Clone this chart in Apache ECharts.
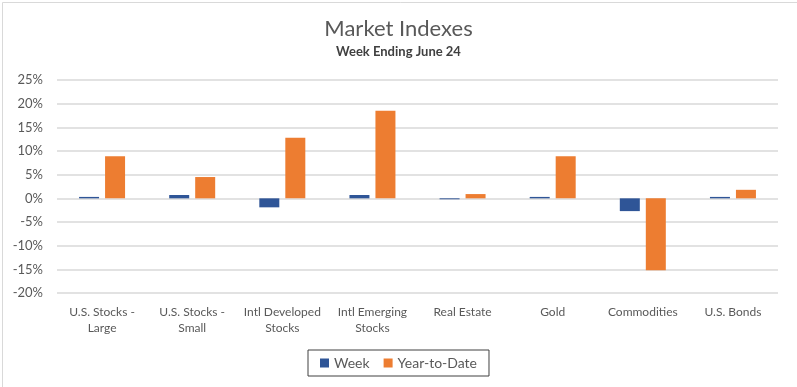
<!DOCTYPE html>
<html>
<head>
<meta charset="utf-8">
<script src="https://cdn.jsdelivr.net/npm/echarts@6/dist/echarts.min.js"></script>
<style>
html,body{margin:0;padding:0;background:#fff;}
#chart{width:797px;height:387px;}
</style>
</head>
<body>
<div id="chart"></div>
<script>
const categories = ["U.S. Stocks -\nLarge", "U.S. Stocks -\nSmall", "Intl Developed\nStocks", "Intl Emerging\nStocks", "Real Estate", "Gold", "Commodities", "U.S. Bonds"];
const weekValues = [0.3, 0.7, -1.9, 0.7, -0.2, 0.3, -2.7, 0.3];
const ytdValues = [8.9, 4.5, 12.8, 18.5, 0.9, 8.9, -15.2, 1.8];
const seriesNames = ["Week", "Year-to-Date"];
const yTicks = {min: -20, max: 25, interval: 5};

const FONT = 'Lato, "Open Sans", sans-serif';
const chart = echarts.init(document.getElementById('chart'), null, {renderer: 'canvas'});
chart.setOption({
  backgroundColor: '#fff',
  animation: false,
  title: {
    text: 'Market Indexes',
    subtext: 'Week Ending June 24',
    left: 'center',
    top: 13,
    itemGap: 5,
    textStyle: {fontFamily: FONT, fontSize: 22, fontWeight: 'normal', color: '#595959'},
    subtextStyle: {fontFamily: FONT, fontSize: 13, fontWeight: 'bold', color: '#404040'}
  },
  graphic: [{
    type: 'rect', left: 0, top: 0, silent: true,
    shape: {x: 0.5, y: 0.5, width: 796, height: 386},
    style: {fill: 'none', stroke: '#d9d9d9', lineWidth: 1}
  }],
  legend: {
    data: seriesNames,
    bottom: 11,
    left: 'center',
    itemWidth: 9,
    itemHeight: 9,
    itemGap: 14,
    padding: [6, 12, 6, 12],
    borderColor: '#404040',
    borderWidth: 1,
    icon: 'rect',
    textStyle: {fontFamily: FONT, fontSize: 14, color: '#595959'}
  },
  grid: {left: 57, right: 19, top: 80, bottom: 94},
  xAxis: {
    type: 'category',
    data: categories,
    axisLine: {show: false},
    axisTick: {show: false},
    axisLabel: {fontFamily: FONT, fontSize: 12, color: '#595959', margin: 11, lineHeight: 16, interval: 0}
  },
  yAxis: {
    type: 'value',
    min: yTicks.min, max: yTicks.max, interval: yTicks.interval,
    axisLine: {show: false},
    axisTick: {show: false},
    splitLine: {lineStyle: {color: '#d9d9d9', width: 1.5}},
    axisLabel: {fontFamily: FONT, fontSize: 13, color: '#595959', margin: 14, formatter: v => v + '%'}
  },
  series: [
    {name: seriesNames[0], type: 'bar', data: weekValues, barWidth: 20, barGap: '30%',
     itemStyle: {color: '#2F5597'}},
    {name: seriesNames[1], type: 'bar', data: ytdValues, barWidth: 20,
     itemStyle: {color: '#ED7D31'}}
  ]
});
</script>
</body>
</html>
